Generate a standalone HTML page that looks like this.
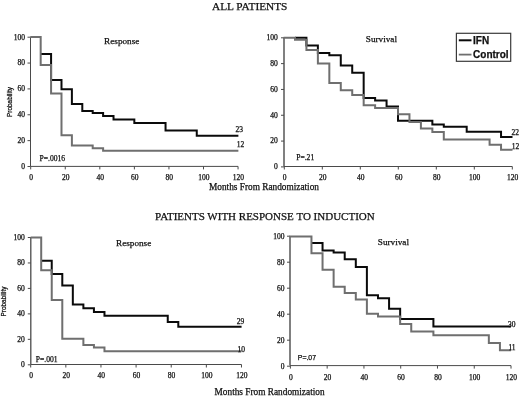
<!DOCTYPE html>
<html><head><meta charset="utf-8"><title>Kaplan-Meier curves</title>
<style>
html,body{margin:0;padding:0;background:#fff;width:520px;height:396px;overflow:hidden}
svg{display:block}
#w{filter:grayscale(1);width:520px;height:396px}
text{fill:#111;stroke:#111;stroke-width:0.25px}
.hd{font-family:"Liberation Serif", serif;font-size:11px}
.ti{font-family:"Liberation Serif", serif;font-size:9.2px}
.xl{font-family:"Liberation Serif", serif;font-size:9.3px}
.tk{font-family:"Liberation Serif", serif;font-size:7.5px}
.pv{font-family:"Liberation Serif", serif;font-size:7.6px}
.pr{font-family:"Liberation Sans", sans-serif;font-size:6.4px}
.lg{font-family:"Liberation Sans", sans-serif;font-size:10px;font-weight:bold}
.pvs{font-family:"Liberation Sans", sans-serif;font-size:6.9px}
</style></head>
<body>
<div id="w">
<svg width="520" height="396" viewBox="0 0 520 396">
<rect width="520" height="396" fill="#fff"/>
<text x="249.7" y="9.5" class="hd" text-anchor="middle" style="font-size:11.3px">ALL PATIENTS</text>
<text x="264.9" y="219.8" class="hd" text-anchor="middle">PATIENTS WITH RESPONSE TO INDUCTION</text>
<path d="M30.50,37.20 V166.40" stroke="#4a4a4a" stroke-width="1.0" fill="none"/>
<path d="M30.50,166.40 H238.06" stroke="#4a4a4a" stroke-width="1.0" fill="none"/>
<path d="M27.50,166.50 H30.50" stroke="#4a4a4a" stroke-width="1" fill="none"/>
<text x="25.10" y="168.80" class="tk" text-anchor="end">0</text>
<path d="M27.50,140.64 H30.50" stroke="#4a4a4a" stroke-width="1" fill="none"/>
<text x="25.10" y="142.94" class="tk" text-anchor="end">20</text>
<path d="M27.50,114.78 H30.50" stroke="#4a4a4a" stroke-width="1" fill="none"/>
<text x="25.10" y="117.08" class="tk" text-anchor="end">40</text>
<path d="M27.50,88.92 H30.50" stroke="#4a4a4a" stroke-width="1" fill="none"/>
<text x="25.10" y="91.22" class="tk" text-anchor="end">60</text>
<path d="M27.50,63.06 H30.50" stroke="#4a4a4a" stroke-width="1" fill="none"/>
<text x="25.10" y="65.36" class="tk" text-anchor="end">80</text>
<path d="M27.50,37.20 H30.50" stroke="#4a4a4a" stroke-width="1" fill="none"/>
<text x="25.10" y="39.50" class="tk" text-anchor="end">100</text>
<path d="M30.70,166.40 V169.40" stroke="#4a4a4a" stroke-width="1" fill="none"/>
<text x="31.10" y="179.50" class="tk" text-anchor="middle">0</text>
<path d="M65.26,166.40 V169.40" stroke="#4a4a4a" stroke-width="1" fill="none"/>
<text x="65.66" y="179.50" class="tk" text-anchor="middle">20</text>
<path d="M99.82,166.40 V169.40" stroke="#4a4a4a" stroke-width="1" fill="none"/>
<text x="100.22" y="179.50" class="tk" text-anchor="middle">40</text>
<path d="M134.38,166.40 V169.40" stroke="#4a4a4a" stroke-width="1" fill="none"/>
<text x="134.78" y="179.50" class="tk" text-anchor="middle">60</text>
<path d="M168.94,166.40 V169.40" stroke="#4a4a4a" stroke-width="1" fill="none"/>
<text x="169.34" y="179.50" class="tk" text-anchor="middle">80</text>
<path d="M203.50,166.40 V169.40" stroke="#4a4a4a" stroke-width="1" fill="none"/>
<text x="203.90" y="179.50" class="tk" text-anchor="middle">100</text>
<path d="M238.06,166.40 V169.40" stroke="#4a4a4a" stroke-width="1" fill="none"/>
<text x="238.46" y="179.50" class="tk" text-anchor="middle">120</text>
<path d="M40.68,54.00 H51.08 V80.00 H61.49 V89.30 H71.89 V104.00 H82.30 V110.90 H92.70 V113.10 H103.11 V115.90 H113.52 V119.40 H134.33 V123.00 H165.55 V130.60 H196.76 V135.70 H238.39" stroke="#0a0a0a" stroke-width="2.0" fill="none" stroke-linejoin="miter" stroke-linecap="butt"/>
<path d="M30.27,37.00 H40.68 V65.00 H51.08 V93.60 H61.49 V135.30 H71.89 V145.60 H92.70 V148.20 H103.11 V150.80 H238.39" stroke="#6f6f6f" stroke-width="2.0" fill="none" stroke-linejoin="miter" stroke-linecap="butt"/>
<text x="104.10" y="44.10" class="ti">Response</text>
<text x="39.50" y="160.90" class="pv">P=.0016</text>
<text x="235.50" y="132.20" class="tk">23</text>
<text x="236.80" y="146.60" class="tk">12</text>
<text transform="translate(11.50,102.00) rotate(-90)" class="pr" text-anchor="middle">Probability</text>
<path d="M284.00,37.80 V166.50" stroke="#4a4a4a" stroke-width="1.4" fill="none"/>
<path d="M284.00,166.50 H512.30" stroke="#4a4a4a" stroke-width="1.0" fill="none"/>
<path d="M281.00,166.90 H284.00" stroke="#4a4a4a" stroke-width="1" fill="none"/>
<text x="277.80" y="169.20" class="tk" text-anchor="end">0</text>
<path d="M281.00,141.08 H284.00" stroke="#4a4a4a" stroke-width="1" fill="none"/>
<text x="277.80" y="143.38" class="tk" text-anchor="end">20</text>
<path d="M281.00,115.26 H284.00" stroke="#4a4a4a" stroke-width="1" fill="none"/>
<text x="277.80" y="117.56" class="tk" text-anchor="end">40</text>
<path d="M281.00,89.44 H284.00" stroke="#4a4a4a" stroke-width="1" fill="none"/>
<text x="277.80" y="91.74" class="tk" text-anchor="end">60</text>
<path d="M281.00,63.62 H284.00" stroke="#4a4a4a" stroke-width="1" fill="none"/>
<text x="277.80" y="65.92" class="tk" text-anchor="end">80</text>
<path d="M281.00,37.80 H284.00" stroke="#4a4a4a" stroke-width="1" fill="none"/>
<text x="277.80" y="40.10" class="tk" text-anchor="end">100</text>
<path d="M284.30,166.50 V169.50" stroke="#4a4a4a" stroke-width="1" fill="none"/>
<text x="284.70" y="180.00" class="tk" text-anchor="middle">0</text>
<path d="M322.30,166.50 V169.50" stroke="#4a4a4a" stroke-width="1" fill="none"/>
<text x="322.70" y="180.00" class="tk" text-anchor="middle">20</text>
<path d="M360.30,166.50 V169.50" stroke="#4a4a4a" stroke-width="1" fill="none"/>
<text x="360.70" y="180.00" class="tk" text-anchor="middle">40</text>
<path d="M398.30,166.50 V169.50" stroke="#4a4a4a" stroke-width="1" fill="none"/>
<text x="398.70" y="180.00" class="tk" text-anchor="middle">60</text>
<path d="M436.30,166.50 V169.50" stroke="#4a4a4a" stroke-width="1" fill="none"/>
<text x="436.70" y="180.00" class="tk" text-anchor="middle">80</text>
<path d="M474.30,166.50 V169.50" stroke="#4a4a4a" stroke-width="1" fill="none"/>
<text x="474.70" y="180.00" class="tk" text-anchor="middle">100</text>
<path d="M512.30,166.50 V169.50" stroke="#4a4a4a" stroke-width="1" fill="none"/>
<text x="512.70" y="180.00" class="tk" text-anchor="middle">120</text>
<path d="M294.99,37.70 H306.43 V45.50 H317.88 V53.00 H329.33 V55.20 H340.78 V65.60 H352.22 V72.70 H363.67 V97.90 H375.12 V100.50 H386.57 V106.40 H398.01 V120.70 H432.36 V124.40 H443.80 V126.70 H466.70 V131.80 H501.04 V136.90 H512.49" stroke="#0a0a0a" stroke-width="2.0" fill="none" stroke-linejoin="miter" stroke-linecap="butt"/>
<path d="M283.54,37.70 H294.99 V39.80 H306.43 V50.10 H317.88 V63.40 H329.33 V83.10 H340.78 V90.30 H352.22 V95.10 H363.67 V105.30 H375.12 V108.00 H398.01 V114.30 H409.46 V121.90 H420.91 V128.60 H432.36 V132.00 H443.80 V139.40 H489.59 V144.70 H501.04 V149.70 H512.49" stroke="#6f6f6f" stroke-width="2.0" fill="none" stroke-linejoin="miter" stroke-linecap="butt"/>
<text x="365.80" y="42.40" class="ti">Survival</text>
<text x="296.20" y="159.60" class="pv">P=.21</text>
<text x="511.50" y="135.40" class="tk">22</text>
<text x="511.80" y="149.20" class="tk">12</text>
<path d="M30.80,237.50 V364.50" stroke="#4a4a4a" stroke-width="1.3" fill="none"/>
<path d="M30.80,364.50 H241.48" stroke="#4a4a4a" stroke-width="1.0" fill="none"/>
<path d="M27.80,364.80 H30.80" stroke="#4a4a4a" stroke-width="1" fill="none"/>
<text x="24.80" y="367.10" class="tk" text-anchor="end">0</text>
<path d="M27.80,339.34 H30.80" stroke="#4a4a4a" stroke-width="1" fill="none"/>
<text x="24.80" y="341.64" class="tk" text-anchor="end">20</text>
<path d="M27.80,313.88 H30.80" stroke="#4a4a4a" stroke-width="1" fill="none"/>
<text x="24.80" y="316.18" class="tk" text-anchor="end">40</text>
<path d="M27.80,288.42 H30.80" stroke="#4a4a4a" stroke-width="1" fill="none"/>
<text x="24.80" y="290.72" class="tk" text-anchor="end">60</text>
<path d="M27.80,262.96 H30.80" stroke="#4a4a4a" stroke-width="1" fill="none"/>
<text x="24.80" y="265.26" class="tk" text-anchor="end">80</text>
<path d="M27.80,237.50 H30.80" stroke="#4a4a4a" stroke-width="1" fill="none"/>
<text x="24.80" y="239.80" class="tk" text-anchor="end">100</text>
<path d="M30.70,364.50 V367.50" stroke="#4a4a4a" stroke-width="1" fill="none"/>
<text x="31.10" y="378.30" class="tk" text-anchor="middle">0</text>
<path d="M65.83,364.50 V367.50" stroke="#4a4a4a" stroke-width="1" fill="none"/>
<text x="66.23" y="378.30" class="tk" text-anchor="middle">20</text>
<path d="M100.96,364.50 V367.50" stroke="#4a4a4a" stroke-width="1" fill="none"/>
<text x="101.36" y="378.30" class="tk" text-anchor="middle">40</text>
<path d="M136.09,364.50 V367.50" stroke="#4a4a4a" stroke-width="1" fill="none"/>
<text x="136.49" y="378.30" class="tk" text-anchor="middle">60</text>
<path d="M171.22,364.50 V367.50" stroke="#4a4a4a" stroke-width="1" fill="none"/>
<text x="171.62" y="378.30" class="tk" text-anchor="middle">80</text>
<path d="M206.35,364.50 V367.50" stroke="#4a4a4a" stroke-width="1" fill="none"/>
<text x="206.75" y="378.30" class="tk" text-anchor="middle">100</text>
<path d="M241.48,364.50 V367.50" stroke="#4a4a4a" stroke-width="1" fill="none"/>
<text x="241.88" y="378.30" class="tk" text-anchor="middle">120</text>
<path d="M41.20,260.70 H51.74 V274.10 H62.29 V285.60 H72.83 V304.60 H83.38 V308.30 H93.93 V312.10 H104.47 V315.70 H167.75 V321.90 H178.30 V326.70 H241.57" stroke="#0a0a0a" stroke-width="2.0" fill="none" stroke-linejoin="miter" stroke-linecap="butt"/>
<path d="M30.65,237.40 H41.20 V270.20 H51.74 V299.90 H62.29 V338.70 H83.38 V345.10 H93.93 V347.60 H104.47 V351.20 H241.57" stroke="#6f6f6f" stroke-width="2.0" fill="none" stroke-linejoin="miter" stroke-linecap="butt"/>
<text x="116.00" y="245.90" class="ti">Response</text>
<text x="35.80" y="361.50" class="pv">P=.001</text>
<text x="236.80" y="323.60" class="tk">29</text>
<text x="237.40" y="351.50" class="tk">10</text>
<text transform="translate(6.30,301.50) rotate(-90)" class="pr" text-anchor="middle">Probability</text>
<path d="M290.00,236.20 V365.60" stroke="#4a4a4a" stroke-width="1.4" fill="none"/>
<path d="M290.00,365.60 H511.02" stroke="#4a4a4a" stroke-width="1.0" fill="none"/>
<path d="M287.00,366.20 H290.00" stroke="#4a4a4a" stroke-width="1" fill="none"/>
<text x="284.40" y="368.50" class="tk" text-anchor="end">0</text>
<path d="M287.00,340.20 H290.00" stroke="#4a4a4a" stroke-width="1" fill="none"/>
<text x="284.40" y="342.50" class="tk" text-anchor="end">20</text>
<path d="M287.00,314.20 H290.00" stroke="#4a4a4a" stroke-width="1" fill="none"/>
<text x="284.40" y="316.50" class="tk" text-anchor="end">40</text>
<path d="M287.00,288.20 H290.00" stroke="#4a4a4a" stroke-width="1" fill="none"/>
<text x="284.40" y="290.50" class="tk" text-anchor="end">60</text>
<path d="M287.00,262.20 H290.00" stroke="#4a4a4a" stroke-width="1" fill="none"/>
<text x="284.40" y="264.50" class="tk" text-anchor="end">80</text>
<path d="M287.00,236.20 H290.00" stroke="#4a4a4a" stroke-width="1" fill="none"/>
<text x="284.40" y="238.50" class="tk" text-anchor="end">100</text>
<path d="M290.40,365.60 V368.60" stroke="#4a4a4a" stroke-width="1" fill="none"/>
<text x="290.80" y="379.50" class="tk" text-anchor="middle">0</text>
<path d="M327.17,365.60 V368.60" stroke="#4a4a4a" stroke-width="1" fill="none"/>
<text x="327.57" y="379.50" class="tk" text-anchor="middle">20</text>
<path d="M363.94,365.60 V368.60" stroke="#4a4a4a" stroke-width="1" fill="none"/>
<text x="364.34" y="379.50" class="tk" text-anchor="middle">40</text>
<path d="M400.71,365.60 V368.60" stroke="#4a4a4a" stroke-width="1" fill="none"/>
<text x="401.11" y="379.50" class="tk" text-anchor="middle">60</text>
<path d="M437.48,365.60 V368.60" stroke="#4a4a4a" stroke-width="1" fill="none"/>
<text x="437.88" y="379.50" class="tk" text-anchor="middle">80</text>
<path d="M474.25,365.60 V368.60" stroke="#4a4a4a" stroke-width="1" fill="none"/>
<text x="474.65" y="379.50" class="tk" text-anchor="middle">100</text>
<path d="M511.02,365.60 V368.60" stroke="#4a4a4a" stroke-width="1" fill="none"/>
<text x="511.42" y="379.50" class="tk" text-anchor="middle">120</text>
<path d="M311.46,242.90 H322.55 V250.50 H333.63 V252.50 H344.72 V259.20 H355.81 V266.90 H366.89 V295.20 H377.98 V298.30 H389.07 V308.80 H400.15 V318.90 H433.41 V326.40 H511.01" stroke="#0a0a0a" stroke-width="2.0" fill="none" stroke-linejoin="miter" stroke-linecap="butt"/>
<path d="M289.29,236.40 H311.46 V253.30 H322.55 V269.80 H333.63 V286.80 H344.72 V292.90 H355.81 V299.60 H366.89 V313.70 H377.98 V316.40 H400.15 V323.90 H411.24 V331.60 H433.41 V335.30 H488.84 V343.00 H499.93 V350.20 H511.01" stroke="#6f6f6f" stroke-width="2.0" fill="none" stroke-linejoin="miter" stroke-linecap="butt"/>
<text x="377.80" y="244.70" class="ti">Survival</text>
<text x="297.80" y="359.80" class="pvs">P=.07</text>
<text x="507.90" y="326.70" class="tk">30</text>
<text x="508.40" y="350.40" class="tk">11</text>
<text x="264" y="189.9" class="xl" text-anchor="middle">Months From Randomization</text>
<text x="269.6" y="395.3" class="xl" text-anchor="middle">Months From Randomization</text>
<rect x="456.4" y="33.3" width="54.3" height="28" fill="#fff" stroke="#3a3a3a" stroke-width="1.2"/>
<path d="M458.8,40.3 H471.5" stroke="#0a0a0a" stroke-width="2"/>
<path d="M458.8,54.6 H471.5" stroke="#6f6f6f" stroke-width="1.8"/>
<text x="473.1" y="44.2" class="lg">IFN</text>
<text x="473.1" y="58.1" class="lg">Control</text>
</svg>
</div>
</body></html>
